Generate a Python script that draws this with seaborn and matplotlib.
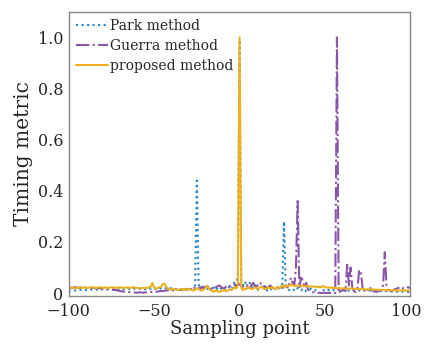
import numpy as np
import pandas as pd
import matplotlib
matplotlib.use("Agg")
import matplotlib.pyplot as plt
import matplotlib.transforms as mtransforms
import seaborn as sns

# sampling points -100 ... 100
sampling_point = list(range(-100, 101))

park_metric = [
    0.012, 0.010, 0.011, 0.012, 0.010, 0.011, 0.012, 0.013, 0.011, 0.012,
    0.012, 0.013, 0.012, 0.014, 0.013, 0.012, 0.014, 0.013, 0.012, 0.014,
    0.015, 0.014, 0.013, 0.015, 0.016, 0.014, 0.013, 0.015, 0.016, 0.014,
    0.013, 0.015, 0.016, 0.014, 0.015, 0.017, 0.015, 0.014, 0.016, 0.018,
    0.016, 0.015, 0.017, 0.018, 0.016, 0.015, 0.017, 0.019, 0.016, 0.020,
    0.018, 0.016, 0.019, 0.021, 0.017, 0.016, 0.020, 0.018, 0.015, 0.017,
    0.019, 0.016, 0.014, 0.017, 0.020, 0.015, 0.013, 0.016, 0.018, 0.014,
    0.012, 0.015, 0.017, 0.020, 0.030, 0.440, 0.035, 0.015, 0.025, 0.030,
    0.018, 0.012, 0.025, 0.015, 0.010, 0.020, 0.028, 0.014, 0.010, 0.018,
    0.022, 0.015, 0.010, 0.018, 0.025, 0.015, 0.020, 0.045, 0.020, 0.080,
    0.980, 0.045, 0.030, 0.045, 0.035, 0.020, 0.040, 0.025, 0.015, 0.030,
    0.020, 0.012, 0.018, 0.025, 0.035, 0.015, 0.010, 0.020, 0.018, 0.012,
    0.020, 0.015, 0.022, 0.018, 0.025, 0.030, 0.280, 0.030, 0.015, 0.012,
    0.010, 0.015, 0.012, 0.008, 0.020, 0.015, 0.010, 0.018, 0.012, 0.008,
    0.010, 0.014, 0.018, 0.012, 0.010, 0.015, 0.020, 0.025, 0.015, 0.012,
    0.010, 0.015, 0.012, 0.010, 0.014, 0.012, 0.010, 0.012, 0.015, 0.010,
    0.012, 0.010, 0.015, 0.012, 0.010, 0.011, 0.013, 0.010, 0.012, 0.010,
    0.011, 0.010, 0.012, 0.010, 0.009, 0.011, 0.010, 0.009, 0.010, 0.008,
    0.009, 0.008, 0.009, 0.007, 0.008, 0.007, 0.008, 0.006, 0.007, 0.006,
    0.007, 0.006, 0.005, 0.006, 0.005, 0.006, 0.005, 0.004, 0.005, 0.004, 0.005,
]

guerra_metric = [
    0.022, 0.021, 0.020, 0.022, 0.023, 0.021, 0.020, 0.022, 0.021, 0.020,
    0.021, 0.022, 0.020, 0.019, 0.021, 0.020, 0.018, 0.020, 0.019, 0.018,
    0.017, 0.018, 0.016, 0.015, 0.016, 0.014, 0.013, 0.012, 0.011, 0.010,
    0.008, 0.007, 0.006, 0.005, 0.005, 0.004, 0.004, 0.003, 0.003, 0.002,
    0.002, 0.002, 0.003, 0.002, 0.002, 0.003, 0.002, 0.003, 0.004, 0.005,
    0.006, 0.005, 0.006, 0.007, 0.008, 0.008, 0.009, 0.010, 0.011, 0.010,
    0.012, 0.011, 0.010, 0.012, 0.013, 0.012, 0.014, 0.015, 0.013, 0.014,
    0.015, 0.016, 0.014, 0.018, 0.020, 0.017, 0.022, 0.020, 0.025, 0.018,
    0.022, 0.028, 0.020, 0.024, 0.018, 0.015, 0.022, 0.026, 0.030, 0.025,
    0.020, 0.018, 0.024, 0.022, 0.028, 0.025, 0.030, 0.035, 0.025, 0.030,
    0.035, 0.030, 0.025, 0.032, 0.028, 0.035, 0.025, 0.030, 0.040, 0.028,
    0.025, 0.035, 0.042, 0.028, 0.022, 0.025, 0.020, 0.024, 0.030, 0.022,
    0.020, 0.025, 0.022, 0.028, 0.024, 0.020, 0.025, 0.030, 0.022, 0.035,
    0.060, 0.040, 0.030, 0.100, 0.360, 0.020, 0.060, 0.050, 0.020, 0.040,
    0.015, 0.008, 0.004, 0.003, 0.002, 0.002, 0.001, 0.001, 0.000, 0.001,
    0.001, 0.000, 0.001, 0.000, 0.001, 0.002, 0.000, 1.000, 0.000, 0.008,
    0.010, 0.015, 0.008, 0.115, 0.030, 0.100, 0.020, 0.008, 0.004, 0.015,
    0.090, 0.085, 0.020, 0.012, 0.010, 0.008, 0.025, 0.015, 0.008, 0.006,
    0.005, 0.006, 0.010, 0.020, 0.030, 0.160, 0.030, 0.012, 0.010, 0.008,
    0.012, 0.015, 0.018, 0.020, 0.025, 0.022, 0.018, 0.020, 0.024, 0.022, 0.020,
]

proposed_metric = [
    0.020, 0.021, 0.022, 0.020, 0.019, 0.021, 0.022, 0.020, 0.021, 0.022,
    0.021, 0.020, 0.022, 0.023, 0.021, 0.022, 0.020, 0.021, 0.023, 0.022,
    0.020, 0.021, 0.022, 0.019, 0.021, 0.023, 0.022, 0.020, 0.021, 0.022,
    0.021, 0.022, 0.020, 0.021, 0.022, 0.021, 0.020, 0.022, 0.023, 0.021,
    0.020, 0.019, 0.018, 0.020, 0.019, 0.020, 0.021, 0.022, 0.025, 0.040,
    0.020, 0.018, 0.020, 0.022, 0.024, 0.036, 0.037, 0.025, 0.018, 0.015,
    0.014, 0.016, 0.015, 0.013, 0.012, 0.014, 0.016, 0.015, 0.013, 0.015,
    0.016, 0.014, 0.012, 0.010, 0.014, 0.018, 0.015, 0.012, 0.010, 0.014,
    0.020, 0.028, 0.018, 0.012, 0.008, 0.006, 0.010, 0.008, 0.005, 0.007,
    0.009, 0.012, 0.008, 0.010, 0.014, 0.012, 0.015, 0.022, 0.018, 0.030,
    1.000, 0.020, 0.012, 0.018, 0.015, 0.022, 0.020, 0.015, 0.018, 0.022,
    0.020, 0.016, 0.022, 0.025, 0.018, 0.015, 0.020, 0.022, 0.018, 0.024,
    0.020, 0.016, 0.022, 0.020, 0.025, 0.028, 0.022, 0.030, 0.026, 0.030,
    0.032, 0.030, 0.028, 0.027, 0.030, 0.029, 0.028, 0.027, 0.028, 0.027,
    0.026, 0.027, 0.025, 0.026, 0.025, 0.024, 0.025, 0.022, 0.024, 0.028,
    0.023, 0.022, 0.021, 0.022, 0.020, 0.021, 0.020, 0.019, 0.020, 0.019,
    0.018, 0.019, 0.018, 0.017, 0.018, 0.017, 0.018, 0.016, 0.017, 0.016,
    0.016, 0.015, 0.016, 0.015, 0.014, 0.015, 0.014, 0.015, 0.014, 0.013,
    0.014, 0.013, 0.012, 0.013, 0.012, 0.011, 0.012, 0.011, 0.012, 0.011,
    0.011, 0.010, 0.011, 0.010, 0.010, 0.011, 0.010, 0.010, 0.011, 0.010, 0.010,
]

x_ticks = [-100, -50, 0, 50, 100]
x_ticklabels = ["\u2212100", "\u221250", "0", "50", "100"]
y_ticks = [0, 0.2, 0.4, 0.6, 0.8, 1.0]
y_ticklabels = ["0", "0.2", "0.4", "0.6", "0.8", "1.0"]

sns.set_style("white")
plt.rcParams["font.family"] = ["DejaVu Serif"]

fig = plt.figure(figsize=(4.24, 3.48), dpi=100)
ax = fig.add_axes([0.162, 0.149, 0.806, 0.817])

sns.lineplot(x=sampling_point, y=park_metric, ax=ax, color="#2585c5",
             linestyle=":", linewidth=1.5, label="Park method")
sns.lineplot(x=sampling_point, y=guerra_metric, ax=ax, color="#8a56a8",
             linestyle="-.", linewidth=1.5, label="Guerra method")
sns.lineplot(x=sampling_point, y=proposed_metric, ax=ax, color="#EDB120",
             linestyle="-", linewidth=1.5, label="proposed method")

ax.set_xlim(-100, 100)
ax.set_ylim(-0.012, 1.1)
ax.set_xticks(x_ticks, labels=x_ticklabels)
ax.set_yticks(y_ticks, labels=y_ticklabels)
ax.tick_params(direction="in", length=3, color="#888888", labelsize=11.5)
ax.tick_params(axis="x", pad=5)
ax.tick_params(axis="y", pad=4)
for s in ax.spines.values():
    s.set_color("#888888")
    s.set_linewidth(1.0)

# nudge the last x label a little so it stays inside the figure
last = ax.get_xticklabels()[-1]
last.set_transform(last.get_transform() +
                   mtransforms.ScaledTranslation(-4 / 100, 0, fig.dpi_scale_trans))

ax.set_xlabel("Sampling point", fontsize=13, labelpad=0)
ax.set_ylabel("Timing metric", fontsize=14.5, labelpad=3)

ax.legend(loc="upper left", frameon=False, fontsize=10, handlelength=2.3,
          handletextpad=0.2, labelspacing=0.45, borderaxespad=0.2,
          borderpad=0.3)

fig.savefig("out.png", dpi=100)
